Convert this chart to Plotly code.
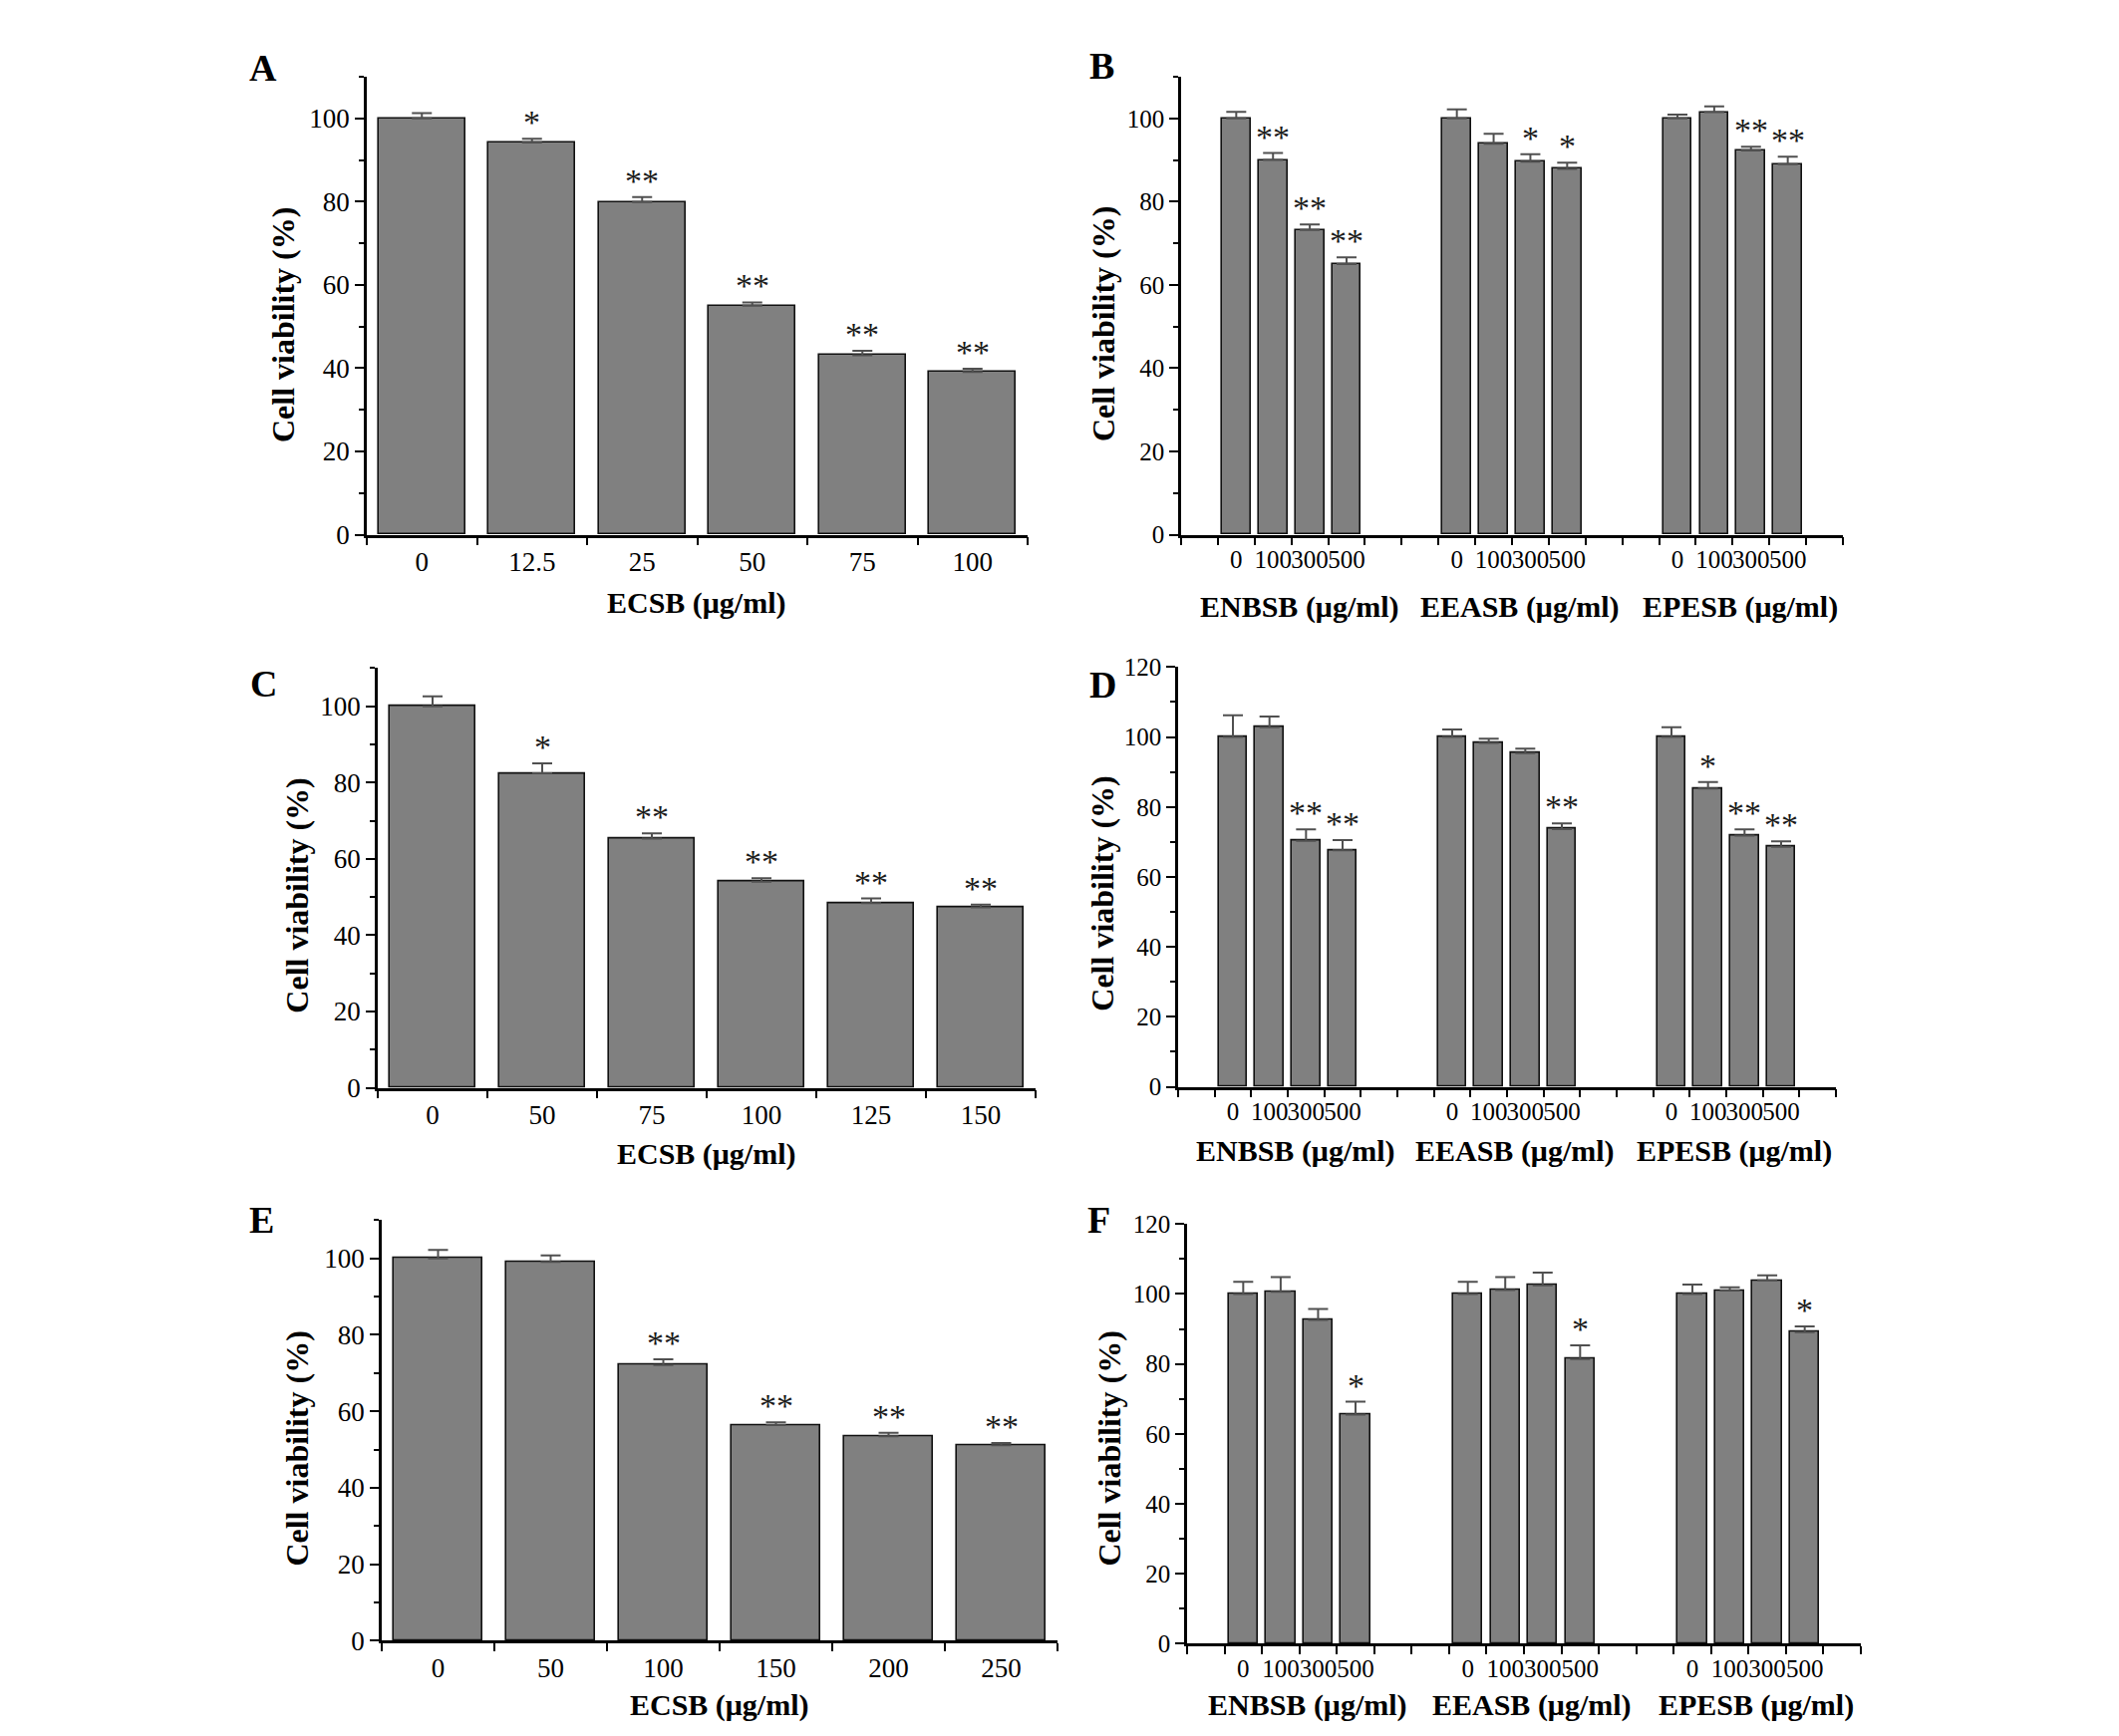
import plotly.graph_objects as go

# ---------------- data ----------------
A_DOSES = ["0", "12.5", "25", "50", "75", "100"]
A_VALUES = [100.0, 94.2, 79.9, 55.0, 43.1, 39.1]
A_ERRORS = [1.3, 0.9, 1.2, 0.8, 1.1, 0.8]
A_SIG = ["", "*", "**", "**", "**", "**"]

C_DOSES = ["0", "50", "75", "100", "125", "150"]
C_VALUES = [100.0, 82.4, 65.3, 54.0, 48.4, 47.3]
C_ERRORS = [2.6, 2.6, 1.4, 0.9, 1.2, 0.7]
C_SIG = ["", "*", "**", "**", "**", "**"]

E_DOSES = ["0", "50", "100", "150", "200", "250"]
E_VALUES = [100.0, 99.1, 72.1, 56.4, 53.5, 51.1]
E_ERRORS = [2.2, 1.7, 1.5, 0.7, 0.9, 0.6]
E_SIG = ["", "", "**", "**", "**", "**"]

GROUP_DOSES = ["0", "100", "300", "500"]
EXTRACTS = ["ENBSB", "EEASB", "EPESB"]

B_ENBSB_VALUES = [100.0, 90.0, 73.2, 65.0]
B_ENBSB_ERRORS = [1.6, 1.7, 1.3, 1.6]
B_ENBSB_SIG = ["", "**", "**", "**"]
B_EEASB_VALUES = [100.0, 93.9, 89.6, 87.9]
B_EEASB_ERRORS = [2.2, 2.4, 1.8, 1.5]
B_EEASB_SIG = ["", "", "*", "*"]
B_EPESB_VALUES = [100.0, 101.5, 92.3, 89.0]
B_EPESB_ERRORS = [0.9, 1.4, 0.9, 1.8]
B_EPESB_SIG = ["", "", "**", "**"]

D_ENBSB_VALUES = [100.0, 102.8, 70.3, 67.6]
D_ENBSB_ERRORS = [6.2, 3.1, 3.3, 2.9]
D_ENBSB_SIG = ["", "", "**", "**"]
D_EEASB_VALUES = [100.0, 98.3, 95.4, 73.7]
D_EEASB_ERRORS = [2.2, 1.2, 1.3, 1.6]
D_EEASB_SIG = ["", "", "", "**"]
D_EPESB_VALUES = [100.0, 85.3, 71.8, 68.6]
D_EPESB_ERRORS = [2.8, 1.8, 1.8, 1.6]
D_EPESB_SIG = ["", "*", "**", "**"]

F_ENBSB_VALUES = [100.0, 100.6, 92.6, 65.5]
F_ENBSB_ERRORS = [3.5, 4.2, 3.1, 3.7]
F_ENBSB_SIG = ["", "", "", "*"]
F_EEASB_VALUES = [100.0, 101.1, 102.5, 81.4]
F_EEASB_ERRORS = [3.5, 3.7, 3.6, 3.9]
F_EEASB_SIG = ["", "", "", "*"]
F_EPESB_VALUES = [100.0, 101.0, 103.9, 89.1]
F_EPESB_ERRORS = [2.7, 0.9, 1.4, 1.6]
F_EPESB_SIG = ["", "", "", "*"]

Y_TITLE = "Cell viability (%)"
X_TITLE_SINGLE = "ECSB (μg/ml)"
UNIT = " (μg/ml)"

# ---------------- styling / layout ----------------
W, H = 2126, 1742
SERIF = "Liberation Serif"
BAR_COLOR = "#808080"
ERR_COLOR = "#505050"


def px(x):
    return x / W


def py(y):
    return 1 - y / H


fig = go.Figure()
annotations = []

# panel geometry in pixels: (x0, x1, y_top, y_zero)
panels = {
    "A": dict(k=1, box=(360, 1023, 57, 524), ymax=110, kind="single",
              cats=A_DOSES, vals=A_VALUES, errs=A_ERRORS, sig=A_SIG,
              letter=(256, 48), ytitle=(276, 310), xtitle=(691, 594)),
    "B": dict(k=2, box=(1177, 1841, 57, 524), ymax=110, kind="group",
              vals=[B_ENBSB_VALUES, B_EEASB_VALUES, B_EPESB_VALUES],
              errs=[B_ENBSB_ERRORS, B_EEASB_ERRORS, B_EPESB_ERRORS],
              sig=[B_ENBSB_SIG, B_EEASB_SIG, B_EPESB_SIG],
              letter=(1097, 46), ytitle=(1099, 309), xtitle_y=598),
    "C": dict(k=3, box=(371, 1031, 660, 1088), ymax=110, kind="single",
              cats=C_DOSES, vals=C_VALUES, errs=C_ERRORS, sig=C_SIG,
              letter=(256, 676), ytitle=(290, 892), xtitle=(701, 1156)),
    "D": dict(k=4, box=(1174, 1834, 659, 1087), ymax=120, kind="group",
              vals=[D_ENBSB_VALUES, D_EEASB_VALUES, D_EPESB_VALUES],
              errs=[D_ENBSB_ERRORS, D_EEASB_ERRORS, D_EPESB_ERRORS],
              sig=[D_ENBSB_SIG, D_EEASB_SIG, D_EPESB_SIG],
              letter=(1098, 677), ytitle=(1098, 890), xtitle_y=1153),
    "E": dict(k=5, box=(375, 1053, 1223, 1652), ymax=110, kind="single",
              cats=E_DOSES, vals=E_VALUES, errs=E_ERRORS, sig=E_SIG,
              letter=(254, 1223), ytitle=(290, 1456), xtitle=(714, 1718)),
    "F": dict(k=6, box=(1183, 1859, 1227, 1655), ymax=120, kind="group",
              vals=[F_ENBSB_VALUES, F_EEASB_VALUES, F_EPESB_VALUES],
              errs=[F_ENBSB_ERRORS, F_EEASB_ERRORS, F_EPESB_ERRORS],
              sig=[F_ENBSB_SIG, F_EEASB_SIG, F_EPESB_SIG],
              letter=(1094, 1223), ytitle=(1105, 1456), xtitle_y=1718),
}

layout_axes = {}

for name, p in panels.items():
    k = p["k"]
    xa = "x" if k == 1 else f"x{k}"
    ya = "y" if k == 1 else f"y{k}"
    x0, x1, yt, yz = p["box"]

    if p["kind"] == "single":
        n = len(p["cats"])
        xs = list(range(n))
        vals = p["vals"]
        errs = p["errs"]
        sigs = p["sig"]
        ticktext = p["cats"]
        xrange = [-0.5, n - 0.5]
        bounds = [i - 0.5 for i in range(n + 1)]
        bw = 0.79
        tfs = 27
    else:
        xs, vals, errs, sigs, ticktext = [], [], [], [], []
        ng = len(EXTRACTS)
        nd = len(GROUP_DOSES)
        for g in range(ng):
            for i in range(nd):
                xs.append(g * (nd + 2) + i)
                vals.append(p["vals"][g][i])
                errs.append(p["errs"][g][i])
                sigs.append(p["sig"][g][i])
                ticktext.append(GROUP_DOSES[i])
        last = (ng - 1) * (nd + 2) + nd - 1
        xrange = [-1.5, last + 1.5]
        bounds = [v - 0.5 for v in range(-1, last + 3)]
        bw = 0.78
        tfs = 25
        # group titles
        for g in range(ng):
            center = g * (nd + 2) + (nd - 1) / 2
            annotations.append(dict(
                x=center, y=py(p["xtitle_y"]), xref=xa, yref="paper",
                text=f"<b>{EXTRACTS[g]}{UNIT}</b>", showarrow=False,
                xanchor="center", yanchor="middle", xshift=8,
                font=dict(family=SERIF, size=30, color="black")))

    fig.add_trace(go.Bar(
        x=xs, y=vals, width=bw, xaxis=xa, yaxis=ya,
        marker=dict(color=BAR_COLOR, line=dict(color="#111111", width=1.6)),
        error_y=dict(type="data", symmetric=False, array=errs,
                     arrayminus=[0] * len(errs), color=ERR_COLOR,
                     thickness=2, width=10),
        showlegend=False, hoverinfo="y"))

    for xv, v, e, s in zip(xs, vals, errs, sigs):
        if s:
            annotations.append(dict(
                x=xv, y=v + e, xref=xa, yref=ya, text=s, showarrow=False,
                xanchor="center", yanchor="bottom", yshift=-4,
                font=dict(family=SERIF, size=34, color="#1a1a1a")))

    ymax = p["ymax"]
    layout_axes["xaxis" if k == 1 else f"xaxis{k}"] = dict(
        domain=[px(x0), px(x1)], anchor=ya, range=xrange,
        tickmode="array", tickvals=xs, ticktext=ticktext, tickangle=0,
        ticks="outside", ticklen=1, tickcolor="rgba(0,0,0,0)",
        tickfont=dict(family=SERIF, size=tfs, color="black"),
        showline=True, linecolor="black", linewidth=2.5,
        showgrid=False, zeroline=False, fixedrange=True,
        minor=dict(tickmode="array", tickvals=bounds, ticks="outside",
                   ticklen=8, tickwidth=2, tickcolor="black", showgrid=False),
    )
    layout_axes["yaxis" if k == 1 else f"yaxis{k}"] = dict(
        domain=[py(yz), py(yt)], anchor=xa, range=[0, ymax],
        tickmode="linear", tick0=0, dtick=20,
        ticks="outside", ticklen=9, tickwidth=2, tickcolor="black",
        tickfont=dict(family=SERIF, size=tfs, color="black"),
        showline=True, linecolor="black", linewidth=2.5,
        showgrid=False, zeroline=False, fixedrange=True,
        minor=dict(tick0=0, dtick=10, ticks="outside", ticklen=5,
                   tickwidth=2, tickcolor="black", showgrid=False),
    )

    # panel letter
    lx, ly = p["letter"]
    annotations.append(dict(
        x=px(lx), y=py(ly), xref="paper", yref="paper", text=f"<b>{name}</b>",
        showarrow=False, xanchor="center", yanchor="middle",
        font=dict(family=SERIF, size=38, color="black")))
    # y title
    tx, ty = p["ytitle"]
    annotations.append(dict(
        x=px(tx), y=py(ty), xref="paper", yref="paper",
        text=f"<b>{Y_TITLE}</b>", textangle=-90, showarrow=False,
        xanchor="center", yanchor="middle",
        font=dict(family=SERIF, size=32, color="black")))
    # x title for single panels
    if p["kind"] == "single":
        xx, xy = p["xtitle"]
        annotations.append(dict(
            x=px(xx), y=py(xy), xref="paper", yref="paper",
            text=f"<b>{X_TITLE_SINGLE}</b>", showarrow=False,
            xanchor="center", yanchor="middle",
            font=dict(family=SERIF, size=30, color="black")))

fig.update_layout(
    width=W, height=H, autosize=False,
    margin=dict(l=0, r=0, t=0, b=0),
    paper_bgcolor="white", plot_bgcolor="white",
    bargap=0, annotations=annotations,
    **layout_axes,
)

fig.write_html("out.html")
